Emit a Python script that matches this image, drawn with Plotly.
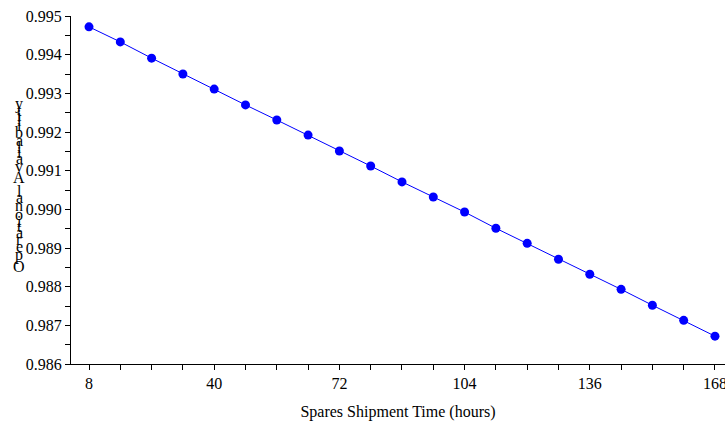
import plotly.graph_objects as go

hours = [8, 16, 24, 32, 40, 48, 56, 64, 72, 80, 88, 96, 104, 112, 120, 128, 136, 144, 152, 160, 168]
availability = [0.99472, 0.99433, 0.99391, 0.99350, 0.99311, 0.99270, 0.99231, 0.99192,
                 0.99151, 0.99112, 0.99071, 0.99032, 0.98993, 0.98951, 0.98912, 0.98871,
                 0.98832, 0.98793, 0.98752, 0.98713, 0.98672]
x_ticks = [8, 40, 72, 104, 136, 168]
x_title = "Spares Shipment Time (hours)"
y_title = "Operational Availability"

FONT = "Liberation Serif"

fig = go.Figure()
fig.add_trace(go.Scatter(
    x=hours, y=availability, mode="lines+markers",
    line=dict(color="#0000ff", width=1),
    marker=dict(color="#0000ff", size=9),
    cliponaxis=False, showlegend=False,
))

W, H = 725, 428
L, R, T, B = 71, 0, 16, 64
pw, ph = W - L - R, H - T - B

# stacked upright characters for the y title, reading bottom-to-top
widths = {"O": 11.6, "p": 8, "e": 7.1, "r": 5.3, "a": 7.1, "t": 4.4, "i": 4.4, "o": 8,
          "n": 8, "l": 4.4, " ": 4, "A": 11.6, "v": 8, "b": 8, "y": 8}
centers = []
acc = 0
for ch in y_title:
    w = widths.get(ch, 7)
    centers.append(acc + w / 2)
    acc += w
c0, c1 = centers[0], centers[-1]
py_bot, py_top = 266, 104  # screen pixels
annotations = []
for ch, c in zip(y_title, centers):
    if ch == " ":
        continue
    py = py_bot - (c - c0) / (c1 - c0) * (py_bot - py_top)
    annotations.append(dict(
        text=ch, xref="paper", yref="paper",
        x=(19 - L) / pw, y=(H - B - py) / ph,
        xanchor="center", yanchor="middle", showarrow=False,
        font=dict(family=FONT, size=16, color="black"),
    ))

fig.update_layout(
    width=W, height=H,
    margin=dict(l=L, r=R, t=T, b=B, autoexpand=False),
    paper_bgcolor="white", plot_bgcolor="white",
    font=dict(family=FONT, size=16, color="black"),
    annotations=annotations,
    xaxis=dict(
        range=[3.4, 170.56], tickvals=x_ticks, ticktext=[str(v) for v in x_ticks],
        showgrid=False, zeroline=False, showline=True, linecolor="black", linewidth=1,
        ticks="outside", ticklen=5, tickcolor="black", ticklabeloverflow="allow",
        minor=dict(dtick=8, tick0=8, ticks="outside", ticklen=5, tickcolor="black", showgrid=False),
        title=dict(text=x_title, font=dict(family=FONT, size=16), standoff=14),
    ),
    yaxis=dict(
        range=[0.986, 0.995], dtick=0.001, tick0=0.986, tickformat=".3f",
        showgrid=False, zeroline=False, showline=True, linecolor="black", linewidth=1,
        ticks="outside", ticklen=5, tickcolor="black", ticklabeloverflow="allow",
        minor=dict(dtick=0.0005, ticks="outside", ticklen=5, tickcolor="black", showgrid=False),
    ),
)

fig.write_html(
    "out.html",
    config={"displayModeBar": False},
    post_script="document.body.style.margin='0';document.body.style.overflow='hidden';",
)
